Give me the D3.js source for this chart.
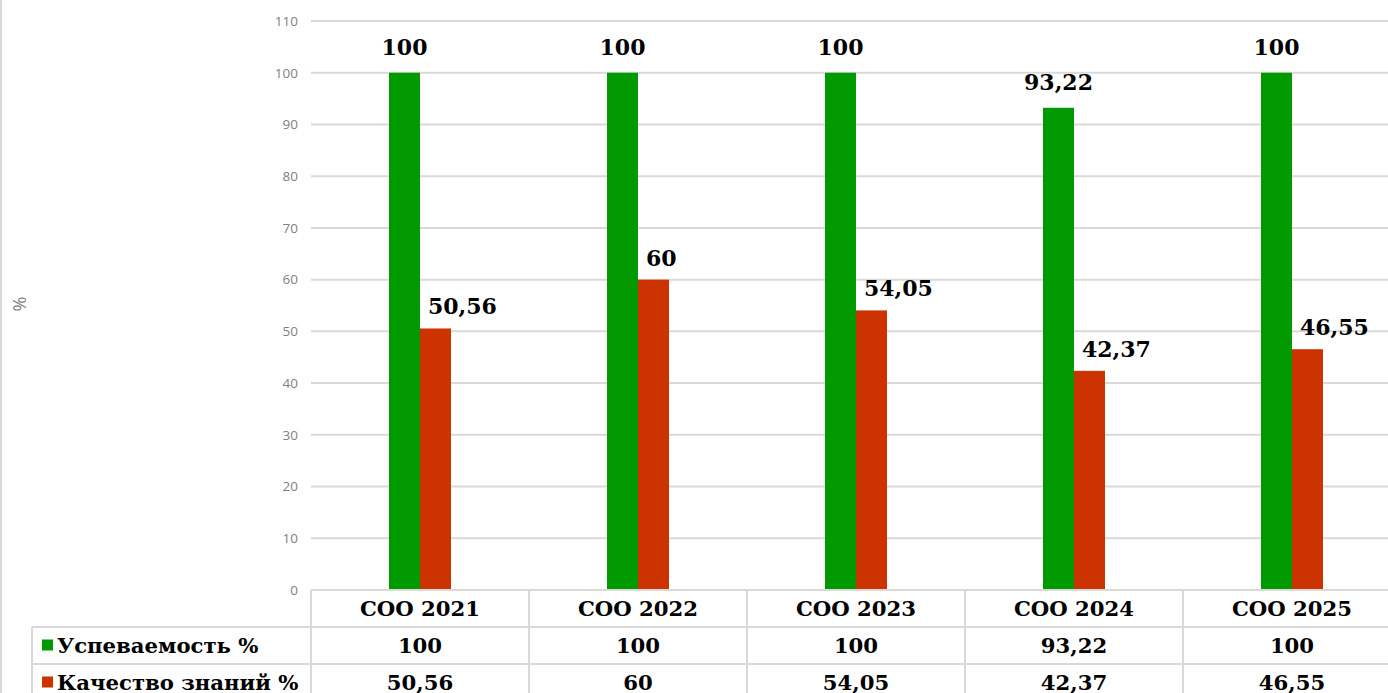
<!DOCTYPE html>
<html>
<head>
<meta charset="utf-8">
<script src="https://cdn.jsdelivr.net/npm/d3@7"></script>
<style>
  body { margin: 0; background: #fff; }
  svg { display: block; }
</style>
</head>
<body>
<div id="container"></div>
<script>
let categories = ['СОО 2021', 'СОО 2022', 'СОО 2023', 'СОО 2024', 'СОО 2025'],
  seriesNames = ['Успеваемость %', 'Качество знаний %'],
  uspevaemost = [100, 100, 100, 93.22, 100],
  kachestvo = [50.56, 60, 54.05, 42.37, 46.55],
  yTicks = [0, 10, 20, 30, 40, 50, 60, 70, 80, 90, 100, 110],
  colors = ['#009900', '#cc3300']

let series = [uspevaemost, kachestvo]

let width = 1388,
  height = 693,
  plot = { left: 311, right: 1401, top: 21, bottom: 590 },
  rowH = 37,
  serif = '"DejaVu Serif", serif',
  gridColor = '#d9d9d9'

let fmt = v => String(v).replace('.', ',')

let svg = d3.select('#container')
  .append('svg')
  .attr('width', width)
  .attr('height', height)

// left edge of chart frame
svg.append('line')
  .attr('x1', 1).attr('x2', 1).attr('y1', 0).attr('y2', height)
  .attr('stroke', gridColor).attr('stroke-width', 2)

let x = d3.scaleBand()
  .domain(categories)
  .range([plot.left, plot.right])

let barW = 31
let xs = d3.scaleBand()
  .domain([0, 1])
  .range([-barW, barW])

let y = d3.scaleLinear()
  .domain([0, 110])
  .range([plot.bottom, plot.top])

// grid
svg.append('g').selectAll('line')
  .data(yTicks.filter(d => d > 0)).enter().append('line')
  .attr('x1', plot.left).attr('x2', width)
  .attr('y1', d => y(d)).attr('y2', d => y(d))
  .attr('stroke', gridColor).attr('stroke-width', 2)

// y axis
let yAxis = d3.axisLeft(y).tickValues(yTicks).tickSize(0).tickPadding(13)
let ga = svg.append('g')
  .attr('transform', 'translate(' + plot.left + ',0)')
  .call(yAxis)
ga.select('.domain').remove()
ga.selectAll('text')
  .attr('font-family', '"Open Sans", sans-serif')
  .attr('font-size', 13.5)
  .attr('fill', '#7f7f7f')

svg.append('text')
  .attr('transform', 'translate(26,' + 304 + ') rotate(-90)')
  .attr('text-anchor', 'middle')
  .attr('font-family', '"Open Sans", sans-serif')
  .attr('font-size', 18)
  .attr('fill', '#7f7f7f')
  .text('%')

// bars
series.forEach(function (vals, s) {
  let g = svg.append('g')
  g.selectAll('rect')
    .data(vals).enter().append('rect')
    .attr('x', (d, i) => x(categories[i]) + x.bandwidth() / 2 + xs(s))
    .attr('width', xs.bandwidth())
    .attr('y', d => y(d))
    .attr('height', d => y(0) - y(d))
    .attr('fill', colors[s])

  // value labels
  g.selectAll('text')
    .data(vals).enter().append('text')
    .attr('x', (d, i) => x(categories[i]) + x.bandwidth() / 2 + xs(s) + (s === 0 ? barW / 2 : 8))
    .attr('y', d => y(d) - (s === 0 ? 18 : 14))
    .attr('text-anchor', s === 0 ? 'middle' : 'start')
    .attr('font-family', serif)
    .attr('font-weight', 'bold')
    .attr('font-size', 22)
    .attr('fill', '#000')
    .text(d => fmt(d))
})

// data table
let table = svg.append('g')
let line = (x1, y1, x2, y2) => table.append('line')
  .attr('x1', x1).attr('y1', y1).attr('x2', x2).attr('y2', y2)
  .attr('stroke', gridColor).attr('stroke-width', 2)

let tLeft = 32
line(plot.left, plot.bottom, plot.right, plot.bottom)
line(tLeft, plot.bottom + rowH, plot.right, plot.bottom + rowH)
line(tLeft, plot.bottom + 2 * rowH, plot.right, plot.bottom + 2 * rowH)
line(tLeft, plot.bottom + rowH, tLeft, height)
categories.forEach(c => line(x(c), plot.bottom, x(c), height))
line(plot.right, plot.bottom, plot.right, height)

let cellText = (tx, ty, t, anchor) => table.append('text')
  .attr('x', tx).attr('y', ty)
  .attr('dy', '0.35em')
  .attr('text-anchor', anchor || 'middle')
  .attr('font-family', serif)
  .attr('font-weight', 'bold')
  .attr('font-size', 21.2)
  .attr('fill', '#000')
  .text(t)

categories.forEach(c => cellText(x(c) + x.bandwidth() / 2, plot.bottom + rowH / 2, c))
series.forEach(function (vals, s) {
  let cy = plot.bottom + rowH * (s + 1) + rowH / 2
  table.append('rect')
    .attr('x', 42).attr('y', cy - 6).attr('width', 11).attr('height', 11)
    .attr('fill', colors[s])
  cellText(57, cy, seriesNames[s], 'start')
  vals.forEach((v, i) => cellText(x(categories[i]) + x.bandwidth() / 2, cy, fmt(v)))
})
</script>
</body>
</html>
